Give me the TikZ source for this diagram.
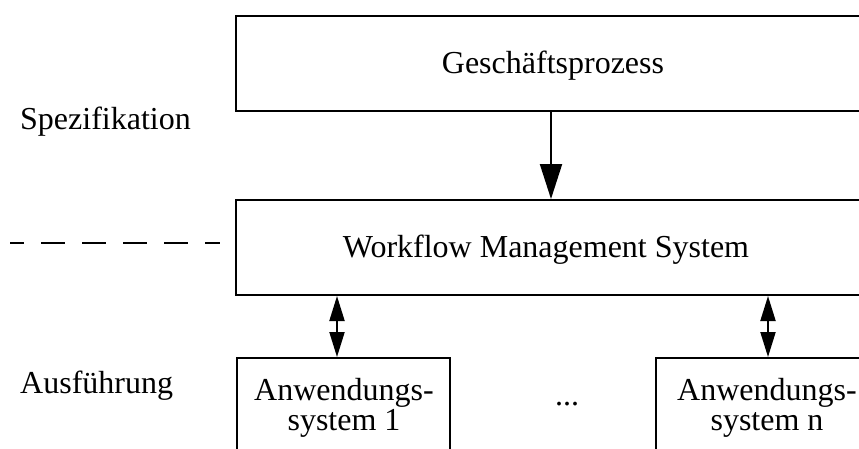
\documentclass[tikz,border=0pt]{standalone}
\usepackage{fontspec}
\setmainfont{Liberation Serif}
\usetikzlibrary{arrows.meta}
\begin{document}
\begin{tikzpicture}[x=1pt,y=-1pt,
  every node/.style={font=\fontsize{32}{30}\selectfont, inner sep=0pt},
  boxnode/.style={draw, line width=2pt, minimum width=#1, minimum height=95pt, anchor=north west},
  flow/.style={line width=2pt, -{Triangle[length=35pt,width=22pt]}},
  link/.style={line width=2pt, {Triangle[length=25pt,width=15pt]}-{Triangle[length=25pt,width=15pt]}},
  sep/.style={line width=1.6pt, dash pattern=on 24pt off 17pt, dash phase=10pt}]
\useasboundingbox (0,0) rectangle (859,448);
\clip (0,0) rectangle (859,448);

% boxes (the right-hand ones run past the edge)
\node[boxnode=660pt] (gp) at (235,15) {};
\node[boxnode=660pt] (wms) at (235,199) {};
\node[boxnode=213pt, minimum height=120pt] (app1) at (236,357) {};
\node[boxnode=225pt, minimum height=120pt] (appn) at (655,357) {};

% box texts
\node[anchor=base] (gpt) at (553,73) {Geschäftsprozess};
\node[anchor=base] (wmst) at (546,257) {Workflow Management System};
\node[align=center] (app1t) at (344,408) {Anwendungs-\\system 1};
\node[align=center] (appnt) at (767,408) {Anwendungs-\\system n};
\node[anchor=base] (dots) at (567,405) {...};

% level labels
\node[anchor=base west] (spec) at (20,129) {Spezifikation};
\node[anchor=base west] (exec) at (20,393) {Ausführung};

% separator between the levels
\coordinate (sepa) at (10,243);
\coordinate (sepb) at (220,243);
\draw[sep] (sepa) -- (sepb);

% connectors
\coordinate (ax) at (551,0);
\coordinate (bx) at (337,0);
\coordinate (cx) at (768,0);
\draw[flow] (gp.south -| ax) -- (wms.north -| ax);
\draw[link] (wms.south -| bx) -- (app1.north -| bx);
\draw[link] (wms.south -| cx) -- (appn.north -| cx);
\end{tikzpicture}
\end{document}
